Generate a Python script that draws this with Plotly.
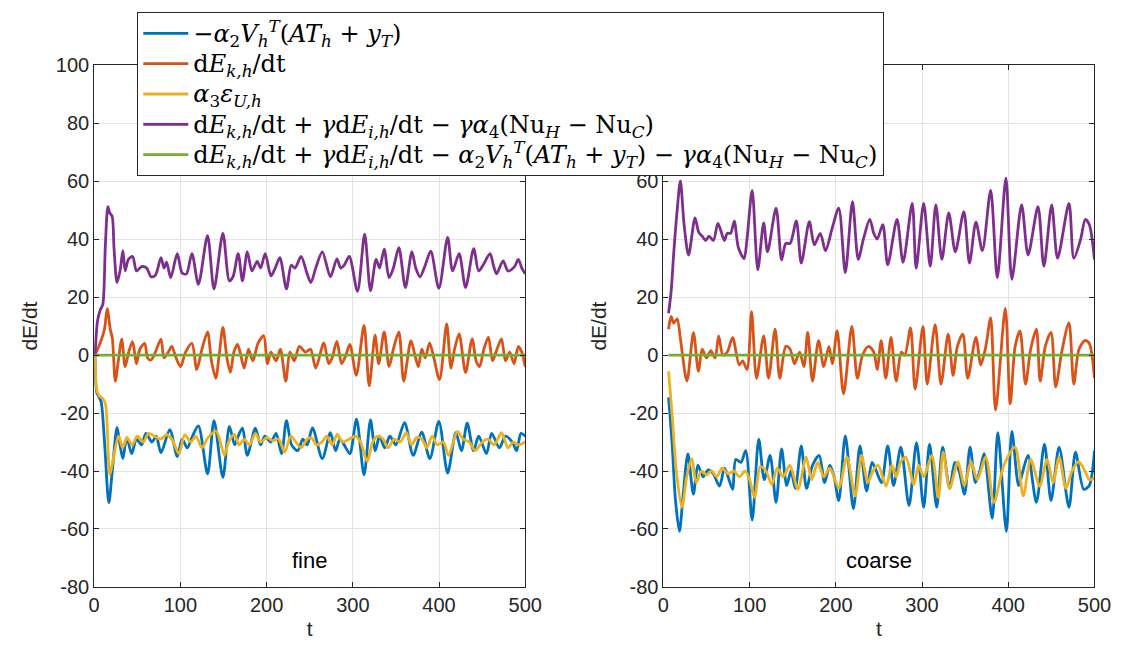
import plotly.graph_objects as go

# ---- data: (t, value) turning points of each energy-budget term ----
fine_blue = [
    (1, 0), (3, -13), (5.7, -14.6), (8, -16), (12, -30), (17, -51), (21, -40), (26.5, -25),
    (30, -31), (33.3, -35.7), (37.8, -28.5), (43.5, -34), (49, -29), (55, -31), (60, -27),
    (67, -30), (72, -28), (77.5, -33.7), (87.7, -25.7), (96.4, -35), (102, -29), (108, -32),
    (114, -28), (120.9, -24.4), (131.5, -41), (139, -22.6), (149.3, -42.2), (156.8, -24.6),
    (163, -31), (167, -28), (172, -25.2), (177.6, -34.6), (187, -25.2), (193, -31), (198, -28),
    (205, -30), (211, -27), (217.3, -34), (223, -22.6), (229, -31), (236, -33), (242, -29),
    (247, -31), (253.2, -25.1), (264.6, -35.7), (274, -26.8), (280, -33), (285, -29), (290, -31),
    (296.6, -34), (304.3, -22.1), (313, -41.3), (320.5, -22.4), (326, -33), (331, -28), (337, -32),
    (343, -28), (350, -31), (360, -23.3), (370, -34.6), (379.8, -26.6), (389.3, -35.7),
    (399.8, -22.9), (410, -40.7), (419.5, -26.8), (426, -33), (432.7, -23.5), (440, -33),
    (446, -28), (455, -34), (461, -27), (470, -32), (477, -28), (485, -30), (490, -33),
    (495, -27), (500, -28),
]
fine_orange = [
    (1, 0), (4, 2), (8, 5), (12, 9), (15.1, 16), (18.9, 8.5), (21, 6), (24.5, -9), (28, -2),
    (32, 5.5), (35.9, -4), (40, 1), (44.6, 4.6), (49, -3), (53, 2), (58.6, 4), (62, -1),
    (66, -1.7), (71, 1), (77.5, 5.5), (81, -1), (86, 1), (90, 3), (95, -1), (100.2, -4), (106, 1),
    (113.4, 4), (119, -5), (125, 2), (131.5, 8), (136, -2), (141, -8), (145, 0), (149.3, 9.5),
    (154, -1), (158, -6), (162, 1), (166.3, 3.7), (170, 0), (174, -4.5), (179, 2), (184, -2),
    (190, 4), (196.5, 6.7), (201, -3), (205, 1), (211, -2), (216, 2), (222.2, -9), (227, 1),
    (232, -2), (238, 3), (245, 1), (251, 2), (257, -4.5), (266.4, 4.2), (272, -3), (276, -1),
    (281.5, 4.7), (287, -3), (292, 0), (296.6, 3.7), (304, -7), (313, 10.2), (319, -10.6),
    (325.8, 6.9), (330, -3), (336.4, 8), (342, -4), (347, 2), (353.4, 8), (359, -9), (367.4, 5),
    (372, 0), (376, -4), (380, 2), (384, -1), (389, 4.2), (394, -1), (400.6, -8.5), (408.9, 10.7),
    (413.8, -4.5), (418, 2), (423.3, 7.3), (430.8, -6), (438.4, 5.6), (443, -2), (447, -4),
    (452, 2), (457.3, 6.2), (462, -2), (466, 1), (472.4, 5.6), (477, -2), (482, 1), (487, -3),
    (492, 3), (496, 1), (500, -4),
]
fine_yellow = [
    (1, 0), (3, -12), (5.7, -14), (10, -15), (13.2, -17), (18.1, -41.3), (22, -36), (28.3, -27.9),
    (33, -32), (38, -28.5), (44, -31), (50, -28), (57, -30), (63, -27), (70, -28), (77, -29),
    (84, -27.5), (90, -29), (98.3, -34), (105, -27.5), (112, -30), (118, -28), (125, -32),
    (132, -28.5), (141.7, -26.3), (151, -34.6), (156, -30), (162.6, -27.4), (168, -31), (174, -29),
    (180, -31), (187, -27), (193, -30), (200, -28.5), (207, -29.5), (214, -29), (221, -33.5),
    (228, -28), (234, -30), (240, -32), (247, -29), (252, -28.5), (258, -31), (264, -30), (270, -28),
    (276, -31), (282, -27.4), (288, -30), (296, -29), (303, -28), (309, -30), (316.7, -36.8),
    (323, -30), (329, -28), (335, -29), (341, -32), (348, -29), (355, -30), (362, -26.8), (368, -31),
    (374, -28.5), (380, -29), (386, -32), (392, -28), (398, -31), (405, -30), (411, -34.6),
    (421.4, -26.3), (428, -29), (435, -30), (442, -33), (450, -30), (457, -29), (464, -31),
    (472.4, -26.8), (480, -32), (486, -30), (492, -31), (500, -30),
]
fine_purple = [
    (1, 0), (4, 12), (7, 15.5), (10, 17.5), (13, 38), (15.9, 51.2), (18, 49), (20.8, 47.9),
    (23, 37), (26.5, 25), (30, 29), (33.3, 36), (35.9, 29), (39.7, 33), (44.6, 34), (49.1, 29),
    (55, 30.5), (61, 30), (66, 27), (71, 27.5), (77.5, 33.6), (81, 30), (84, 32), (88.8, 26.7),
    (96.4, 35), (102, 28.3), (107, 28), (113.4, 35), (120.9, 24.4), (131.5, 41.2), (139, 22.8),
    (149.3, 42), (156.8, 25.6), (161, 27), (167, 35), (172, 25.6), (177.6, 35.6), (183, 29),
    (189, 32.3), (193, 30), (198.4, 35), (205, 27.3), (210, 30), (215.4, 33.6), (223, 22.8),
    (228.6, 31), (233, 30), (240, 34), (246, 29), (251.3, 25), (257, 30), (264.6, 35.6), (274, 27),
    (281.5, 33.2), (286, 30), (290, 31), (295.9, 34), (305.4, 22), (313.7, 41.7), (320.5, 22.2),
    (327, 33), (331, 30), (336.4, 36.5), (342, 26.7), (347, 30), (353.4, 37), (361, 23.3),
    (368.5, 35.6), (373, 30), (378, 27), (384, 31), (390.4, 35.8), (399.8, 23), (410, 40.6),
    (415.7, 29), (423.3, 35), (430.8, 23.3), (440.2, 36.7), (445.9, 29), (451, 31), (459.2, 35),
    (463, 31), (466.7, 28), (474.3, 32.5), (480, 29), (487.5, 30.5), (492, 33), (496, 30), (500, 28),
]
fine_green = [(1, 0), (500, 0)]

coarse_blue = [
    (6, -14.6), (10, -30), (14, -50), (18.6, -60.8), (23, -48), (28.4, -34.1), (34.8, -48),
    (40, -38), (46, -42), (52, -39.6), (58, -41), (65.1, -45.2), (70.8, -39), (75, -42),
    (80.3, -46.3), (84, -36), (90, -37), (95.5, -33), (103, -56.9), (110.6, -29), (117, -43),
    (123.8, -34.6), (130.7, -50.8), (137.1, -32.4), (143, -45), (148, -40), (153, -46),
    (159.9, -31.3), (166, -46), (173, -38), (180.7, -34.6), (187, -44), (193, -38), (198, -42),
    (203.4, -50.2), (211, -27.9), (220.4, -53), (228, -31.3), (235.6, -46.9), (242, -37), (247, -40),
    (253, -44), (260.2, -31.3), (267, -45), (275.4, -31.8), (284.9, -51.9), (293.6, -30.2),
    (301.9, -52.5), (308.7, -30.7), (317, -52.5), (323.9, -31.8), (332, -46), (338, -37), (343, -40),
    (349.3, -48), (355.7, -31.8), (362, -44), (367, -40), (372, -34), (381.4, -56.3), (387.9, -26.8),
    (397.8, -60.8), (404.2, -26.3), (412, -45), (417, -40), (423, -34.6), (432.6, -50.8),
    (442, -30.7), (449.6, -50.2), (459, -31.8), (470.4, -52.5), (478, -33.5), (487.5, -46.3),
    (494, -45), (500, -33),
]
coarse_orange = [
    (6, 8.9), (9, 13.3), (12, 11), (16, 12.5), (20, 5), (27.3, -9), (34.9, 7.7), (40.6, -5.6),
    (45, 2), (50, -1), (55, 1.5), (60, -1), (64.1, 6.6), (69, 0), (74, 1), (80.3, 6), (87.9, -3.4),
    (92, -2), (97, -5), (102.3, 15), (108, -8), (116.3, 6.6), (122, -8), (129.6, 8.9), (135, -8),
    (142, 3), (147, 2), (152, -3), (158, 1), (163, -4), (167.4, 7.8), (173, -9), (180, 5), (186, -4),
    (192, 3), (196, -3), (201.5, 8.4), (209, -13.4), (218.6, 9.9), (225, -8), (231, 0), (238, 3),
    (244, 1), (248, -5), (252.6, 5), (258, -8), (264, 6.1), (270, -9), (276, 1), (280, 0),
    (286.7, 9.4), (292, -11.8), (301.1, 9.9), (306, -10), (315.2, 10.5), (322, -10), (330.3, 7.2),
    (336, -7), (341, 3), (347.3, 7.2), (353, -8), (362.5, 6.1), (368.2, -3.4), (374, 3),
    (379.6, 12.8), (385.3, -19), (396.6, 16.1), (402.3, -16.8), (408, 3), (413.6, 8.3), (420, -10),
    (426, 2), (432.6, 8.9), (437, -9), (443, 3), (449.6, 7.8), (455, -11), (462, 1), (470.4, 11.1),
    (476, -10), (482, 2), (489, 5), (494, 4), (500, -8),
]
coarse_yellow = [
    (6, -5.6), (10, -20), (15, -40), (21.6, -52.5), (27, -42), (33, -35.7), (38, -44), (44, -40),
    (50, -41.3), (56, -40), (62, -42), (68, -39), (75, -41), (82, -40), (88, -42), (95, -40),
    (100, -43), (105.7, -49.1), (112.5, -38.5), (119, -40), (125.8, -44.7), (132, -39), (139, -42),
    (146.6, -38), (156.1, -46.3), (165.6, -35.2), (172, -43), (179, -37), (186, -42), (193, -39),
    (203.4, -45.8), (212.9, -35.2), (222.3, -48.6), (229.9, -34.6), (237, -44), (243, -40),
    (248.9, -38), (258.3, -45.2), (265, -38), (270, -42), (275, -37), (281.1, -35.2), (290.5, -44.7),
    (296, -38), (302, -42), (311.4, -34.6), (318.9, -49.1), (324.6, -33.5), (332, -46),
    (341.7, -36.8), (349, -45), (356.8, -36.8), (364, -43), (373.9, -35.2), (383.4, -50.8),
    (395, -38), (407.9, -31.8), (417.4, -48.6), (426, -36), (436.4, -45.2), (445, -36), (452, -44),
    (459, -35.2), (467, -46), (474, -40), (481.8, -36.8), (489, -40), (494, -43), (500, -42.4),
]
coarse_purple = [
    (6, 14.4), (9, 22), (12.1, 35.6), (16, 50), (19.7, 60.1), (24, 45), (29.2, 34.5), (36.7, 47.3),
    (41, 42.3), (45, 41), (49, 39.5), (53, 41), (58, 39.5), (63.3, 45.4), (70.8, 39.5), (74, 42),
    (78, 42), (82.2, 46.2), (87, 37), (93.6, 33.3), (97, 40), (103, 56.8), (109.5, 29.4),
    (116.3, 45.6), (120.8, 35.6), (130.7, 50.7), (137.1, 32.8), (142, 38.5), (147, 38.5),
    (154.2, 46.3), (159.9, 31.7), (169.3, 46), (175, 38), (182, 42), (188, 36), (196, 44),
    (203.4, 50.7), (211, 28.4), (219.3, 52.9), (226, 33), (232, 40), (239.4, 46.8), (244, 42),
    (248, 40), (254.5, 45), (260.2, 31.1), (271, 46.8), (278, 32), (288.6, 52.3), (293.2, 29.9),
    (301.9, 52.3), (309.5, 30.6), (316, 51.8), (323, 33), (331, 49), (338.6, 35.6), (348.5, 49.5),
    (355, 31.7), (362.5, 45.8), (370, 36), (379.6, 56.8), (387.3, 26.7), (397.3, 61), (404.2, 26.1),
    (415.5, 51.8), (423, 34.5), (434.5, 51.2), (441.3, 30.6), (450.4, 51.8), (457.2, 33.4),
    (470.4, 52.3), (476.1, 33.4), (484, 40), (489.4, 46.8), (494, 45), (500, 32.9),
]
coarse_green = [(6, 0), (500, 0)]

x_ticks = [0, 100, 200, 300, 400, 500]
y_ticks = [-80, -60, -40, -20, 0, 20, 40, 60, 80, 100]
y_ticklabels = ["-80", "-60", "-40", "-20", "0", "20", "40", "60", "80", "100"]
panel_titles = ["fine", "coarse"]

legend_names = [
    "−<i>α</i><sub>2</sub><i>V</i><sub><i>h</i></sub><sup><i>T</i></sup>(<i>AT</i><sub><i>h</i></sub> + <i>y</i><sub><i>T</i></sub>)",
    "d<i>E</i><sub><i>k,h</i></sub>/dt",
    "<i>α</i><sub>3</sub><i>ε</i><sub><i>U,h</i></sub>",
    "d<i>E</i><sub><i>k,h</i></sub>/dt + <i>γ</i>d<i>E</i><sub><i>i,h</i></sub>/dt − <i>γα</i><sub>4</sub>(Nu<sub><i>H</i></sub> − Nu<sub><i>C</i></sub>)",
    "d<i>E</i><sub><i>k,h</i></sub>/dt + <i>γ</i>d<i>E</i><sub><i>i,h</i></sub>/dt − <i>α</i><sub>2</sub><i>V</i><sub><i>h</i></sub><sup><i>T</i></sup>(<i>AT</i><sub><i>h</i></sub> + <i>y</i><sub><i>T</i></sub>) − <i>γα</i><sub>4</sub>(Nu<sub><i>H</i></sub> − Nu<sub><i>C</i></sub>)",
]
colors = ["#0072BD", "#D95319", "#EDB120", "#7E2F8E", "#77AC30"]

panels = [
    ([fine_blue, fine_orange, fine_yellow, fine_purple, fine_green], "x", "y"),
    ([coarse_blue, coarse_orange, coarse_yellow, coarse_purple, coarse_green], "x2", "y2"),
]

fig = go.Figure()
for p, (series, xa, ya) in enumerate(panels):
    for k, pts in enumerate(series):
        ts = [a for a, _ in pts]
        vs = [b for _, b in pts]
        fig.add_trace(go.Scatter(
            x=ts, y=vs, xaxis=xa, yaxis=ya, mode="lines",
            line=dict(color=colors[k], width=2.8, shape="spline", smoothing=0.8),
            name='<span style="font-size:24px">' + legend_names[k] + "</span>",
            showlegend=(p == 0), legendgroup=str(k), hoverinfo="skip",
        ))

W, H = 1134, 655
sans = "Liberation Sans, Arial, sans-serif"
ax_font = dict(family=sans, size=20, color="#262626")
title_font = dict(family=sans, size=21, color="#262626")
common_x = dict(range=[0, 500], tickvals=x_ticks, ticks="inside", ticklen=5, tickcolor="#262626",
                showline=True, linecolor="#262626", linewidth=1, mirror="allticks",
                showgrid=True, gridcolor="#e3e3e3", gridwidth=1, zeroline=False,
                tickfont=ax_font, title=dict(text="t", font=title_font, standoff=6))
common_y = dict(range=[-80, 100], tickvals=y_ticks, ticktext=y_ticklabels, ticks="inside", ticklen=5,
                tickcolor="#262626", showline=True, linecolor="#262626", linewidth=1, mirror="allticks",
                showgrid=True, gridcolor="#e3e3e3", gridwidth=1, zeroline=False,
                tickfont=ax_font, title=dict(text="dE/dt", font=title_font, standoff=12))

y_dom = [1 - 596 / H, 1 - 56 / H]
fig.update_layout(
    width=W, height=H, margin=dict(l=0, r=0, t=0, b=0),
    paper_bgcolor="white", plot_bgcolor="white",
    xaxis=dict(domain=[90 / W, 530 / W], anchor="y", **common_x),
    yaxis=dict(domain=y_dom, anchor="x", **common_y),
    xaxis2=dict(domain=[671 / W, 1111 / W], anchor="y2", **common_x),
    yaxis2=dict(domain=y_dom, anchor="x2", **common_y),
    legend=dict(x=134 / W, y=0.998, xanchor="left", yanchor="top",
                bgcolor="white", bordercolor="#262626", borderwidth=1,
                font=dict(family="DejaVu Serif, Liberation Serif, serif", size=21, color="black"),
                tracegroupgap=0, itemwidth=45),
    showlegend=True,
)

for i, txt in enumerate(panel_titles):
    fig.add_annotation(x=250, y=-71, xref="x" if i == 0 else "x2", yref="y" if i == 0 else "y2",
                       text=txt, showarrow=False, font=dict(family=sans, size=22, color="black"))

fig.write_html("out.html")
